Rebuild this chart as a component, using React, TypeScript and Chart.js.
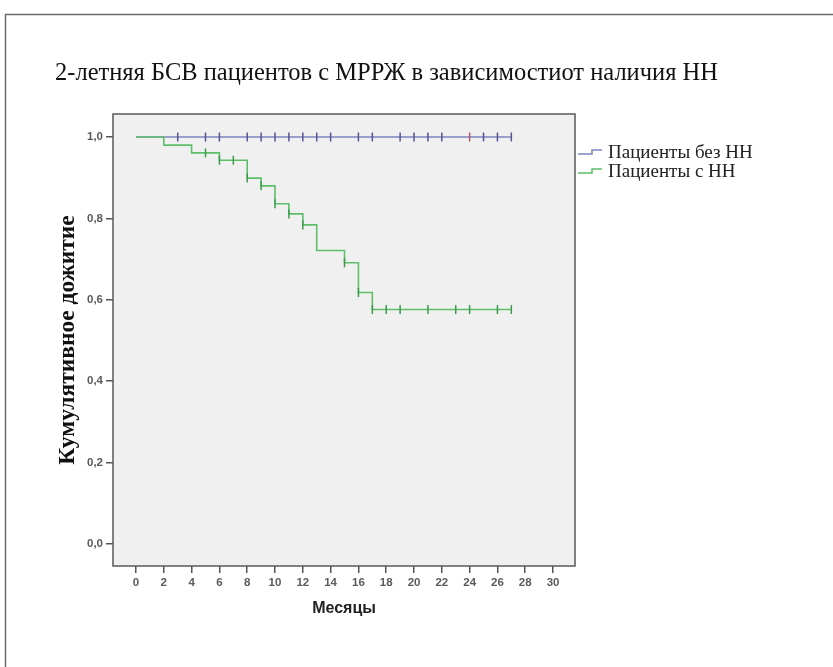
import React, { useEffect, useRef } from "react";
import { Chart, registerables } from "chart.js";

Chart.register(...registerables);

const titleText = "2-летняя БСВ пациентов с МРРЖ в зависимостиот наличия НН";
const yAxisTitle = "Кумулятивное дожитие";
const xAxisTitle = "Месяцы";
const seriesNames = ["Пациенты без НН", "Пациенты с НН"];

const xTickValues = [0, 2, 4, 6, 8, 10, 12, 14, 16, 18, 20, 22, 24, 26, 28, 30];
const yTickValues = [0, 0.2, 0.4, 0.6, 0.8, 1.0];
const yTickLabels = ["0,0", "0,2", "0,4", "0,6", "0,8", "1,0"];

// Пациенты без НН
const noHFTimes = [0, 27];
const noHFSurvival = [1, 1];
const noHFCensorTimes = [3, 5, 6, 8, 9, 10, 11, 12, 13, 14, 16, 17, 19, 20, 21, 22, 24, 25, 26, 27];

// Пациенты с НН
const hfTimes = [0, 2, 4, 6, 8, 9, 10, 11, 12, 13, 15, 16, 17, 27];
const hfSurvival = [1, 0.98, 0.961, 0.943, 0.899, 0.88, 0.836, 0.811, 0.784, 0.721, 0.691, 0.618, 0.576, 0.576];
const hfCensorTimes = [5, 6, 7, 8, 9, 10, 11, 12, 15, 16, 17, 18, 19, 21, 23, 24, 26, 27];

function survivalAt(times: number[], surv: number[], t: number): number {
  let v = surv[0];
  for (let i = 0; i < times.length; i++) {
    if (times[i] <= t) v = surv[i];
  }
  return v;
}

const BLUE = "#7b84c0";
const BLUE_MARK = "#4f5893";
const GREEN = "#5dbf6a";
const GREEN_MARK = "#3d9a4c";

const decorPlugin = {
  id: "decor",
  beforeDraw(chart: any) {
    const { ctx, chartArea: a } = chart;
    ctx.save();
    ctx.fillStyle = "#ffffff";
    ctx.fillRect(0, 0, chart.width, chart.height);
    // outer frame
    ctx.strokeStyle = "#6a6a6a";
    ctx.lineWidth = 1.5;
    ctx.beginPath();
    ctx.moveTo(5.5, chart.height + 5);
    ctx.lineTo(5.5, 14.5);
    ctx.lineTo(chart.width + 5, 14.5);
    ctx.stroke();
    // title
    ctx.fillStyle = "#111";
    ctx.font = '24.5px "Liberation Serif"';
    ctx.textBaseline = "alphabetic";
    ctx.textAlign = "left";
    ctx.fillText(titleText, 55, 80);
    // plot background
    ctx.fillStyle = "#f0f0f0";
    ctx.fillRect(a.left, a.top, a.right - a.left, a.bottom - a.top);
    ctx.restore();
  },
  beforeDatasetsDraw(chart: any) {
    const { ctx, chartArea: a } = chart;
    ctx.save();
    ctx.strokeStyle = "#5a5a5a";
    ctx.lineWidth = 1.5;
    ctx.strokeRect(a.left, a.top, a.right - a.left, a.bottom - a.top);
    ctx.restore();
  },
  afterDraw(chart: any) {
    const { ctx, chartArea: a } = chart;
    ctx.save();
    const colors = [BLUE, GREEN];
    const baselines = [158, 177];
    ctx.lineWidth = 1.5;
    seriesNames.forEach((name, i) => {
      const b = baselines[i];
      const x0 = a.right + 3;
      ctx.strokeStyle = colors[i];
      ctx.beginPath();
      ctx.moveTo(x0, b - 4);
      ctx.lineTo(x0 + 14, b - 4);
      ctx.lineTo(x0 + 14, b - 8);
      ctx.lineTo(x0 + 24, b - 8);
      ctx.stroke();
      ctx.fillStyle = "#222";
      ctx.font = '19px "Liberation Serif"';
      ctx.textBaseline = "alphabetic";
      ctx.textAlign = "left";
      ctx.fillText(name, x0 + 30, b);
    });
    ctx.restore();
  },
};

export default function App() {
  const ref = useRef<HTMLCanvasElement | null>(null);

  useEffect(() => {
    if (!ref.current) return;
    const noHFLine = noHFTimes.map((t, i) => ({ x: t, y: noHFSurvival[i] }));
    const hfLine = hfTimes.map((t, i) => ({ x: t, y: hfSurvival[i] }));
    const noHFMarks = noHFCensorTimes.map((t) => ({ x: t, y: survivalAt(noHFTimes, noHFSurvival, t) }));
    const hfMarks = hfCensorTimes.map((t) => ({ x: t, y: survivalAt(hfTimes, hfSurvival, t) }));

    const chart = new Chart(ref.current, {
      type: "line",
      data: {
        datasets: [
          {
            label: seriesNames[1] + " (цензур.)",
            data: hfMarks,
            showLine: false,
            pointStyle: "line",
            rotation: 90,
            pointRadius: 4.5,
            pointBorderWidth: 1.5,
            pointBorderColor: GREEN_MARK,
            pointBackgroundColor: GREEN_MARK,
            order: 0,
          },
          {
            label: seriesNames[0] + " (цензур.)",
            data: noHFMarks,
            showLine: false,
            pointStyle: "line",
            rotation: 90,
            pointRadius: 4.5,
            pointBorderWidth: 1.5,
            pointBorderColor: (c: any) => (noHFCensorTimes[c.dataIndex] === 24 ? "#b0566a" : BLUE_MARK),
            pointBackgroundColor: BLUE_MARK,
            order: 1,
          },
          {
            label: seriesNames[1],
            data: hfLine,
            stepped: "before",
            borderColor: GREEN,
            borderWidth: 1.6,
            pointRadius: 0,
            fill: false,
            order: 2,
          },
          {
            label: seriesNames[0],
            data: noHFLine,
            stepped: "before",
            borderColor: BLUE,
            borderWidth: 1.6,
            pointRadius: 0,
            fill: false,
            order: 3,
          },
        ],
      },
      options: {
        responsive: false,
        animation: false,
        devicePixelRatio: 1,
        layout: { padding: { left: 0, top: 114, right: 258, bottom: 0 } },
        plugins: {
          legend: { display: false },
          title: { display: false },
          tooltip: { enabled: false },
        },
        scales: {
          x: {
            type: "linear",
            min: -1.655,
            max: 31.58,
            afterBuildTicks: (s: any) => {
              s.ticks = xTickValues.map((v) => ({ value: v }));
            },
            afterFit: (s: any) => {
              s.height = 101;
            },
            grid: { display: true, drawOnChartArea: false, drawTicks: true, tickLength: 7, tickColor: "#555", lineWidth: 1.5 },
            border: { display: false },
            ticks: {
              autoSkip: false,
              maxRotation: 0,
              padding: 3,
              color: "#5a5a5a",
              font: { family: "Liberation Sans", size: 11.5, weight: "bold" },
              callback: (v: any) => String(v),
            },
            title: {
              display: true,
              text: xAxisTitle,
              color: "#222",
              font: { family: "Liberation Sans", size: 16, weight: "bold" },
              padding: { top: 0, bottom: 49 },
            },
          },
          y: {
            type: "linear",
            min: -0.054,
            max: 1.0565,
            afterBuildTicks: (s: any) => {
              s.ticks = yTickValues.map((v) => ({ value: v }));
            },
            afterFit: (s: any) => {
              s.width = 113;
            },
            grid: { display: true, drawOnChartArea: false, drawTicks: true, tickLength: 7, tickColor: "#555", lineWidth: 1.5 },
            border: { display: false },
            ticks: {
              padding: 3,
              color: "#5a5a5a",
              font: { family: "Liberation Sans", size: 11.5, weight: "bold" },
              callback: (v: any) => {
                const idx = yTickValues.findIndex((t) => Math.abs(t - v) < 1e-6);
                return idx >= 0 ? yTickLabels[idx] : "";
              },
            },
            title: {
              display: true,
              text: yAxisTitle,
              color: "#111",
              font: { family: "Liberation Serif", size: 23.5, weight: "bold" },
              padding: { top: 54, bottom: 0 },
            },
          },
        },
      },
      plugins: [decorPlugin],
    } as any);
    return () => chart.destroy();
  }, []);

  return (
    <div style={{ position: "absolute", left: 0, top: 0, width: 833, height: 667 }}>
      <canvas ref={ref} width={833} height={667} style={{ display: "block" }} />
    </div>
  );
}
